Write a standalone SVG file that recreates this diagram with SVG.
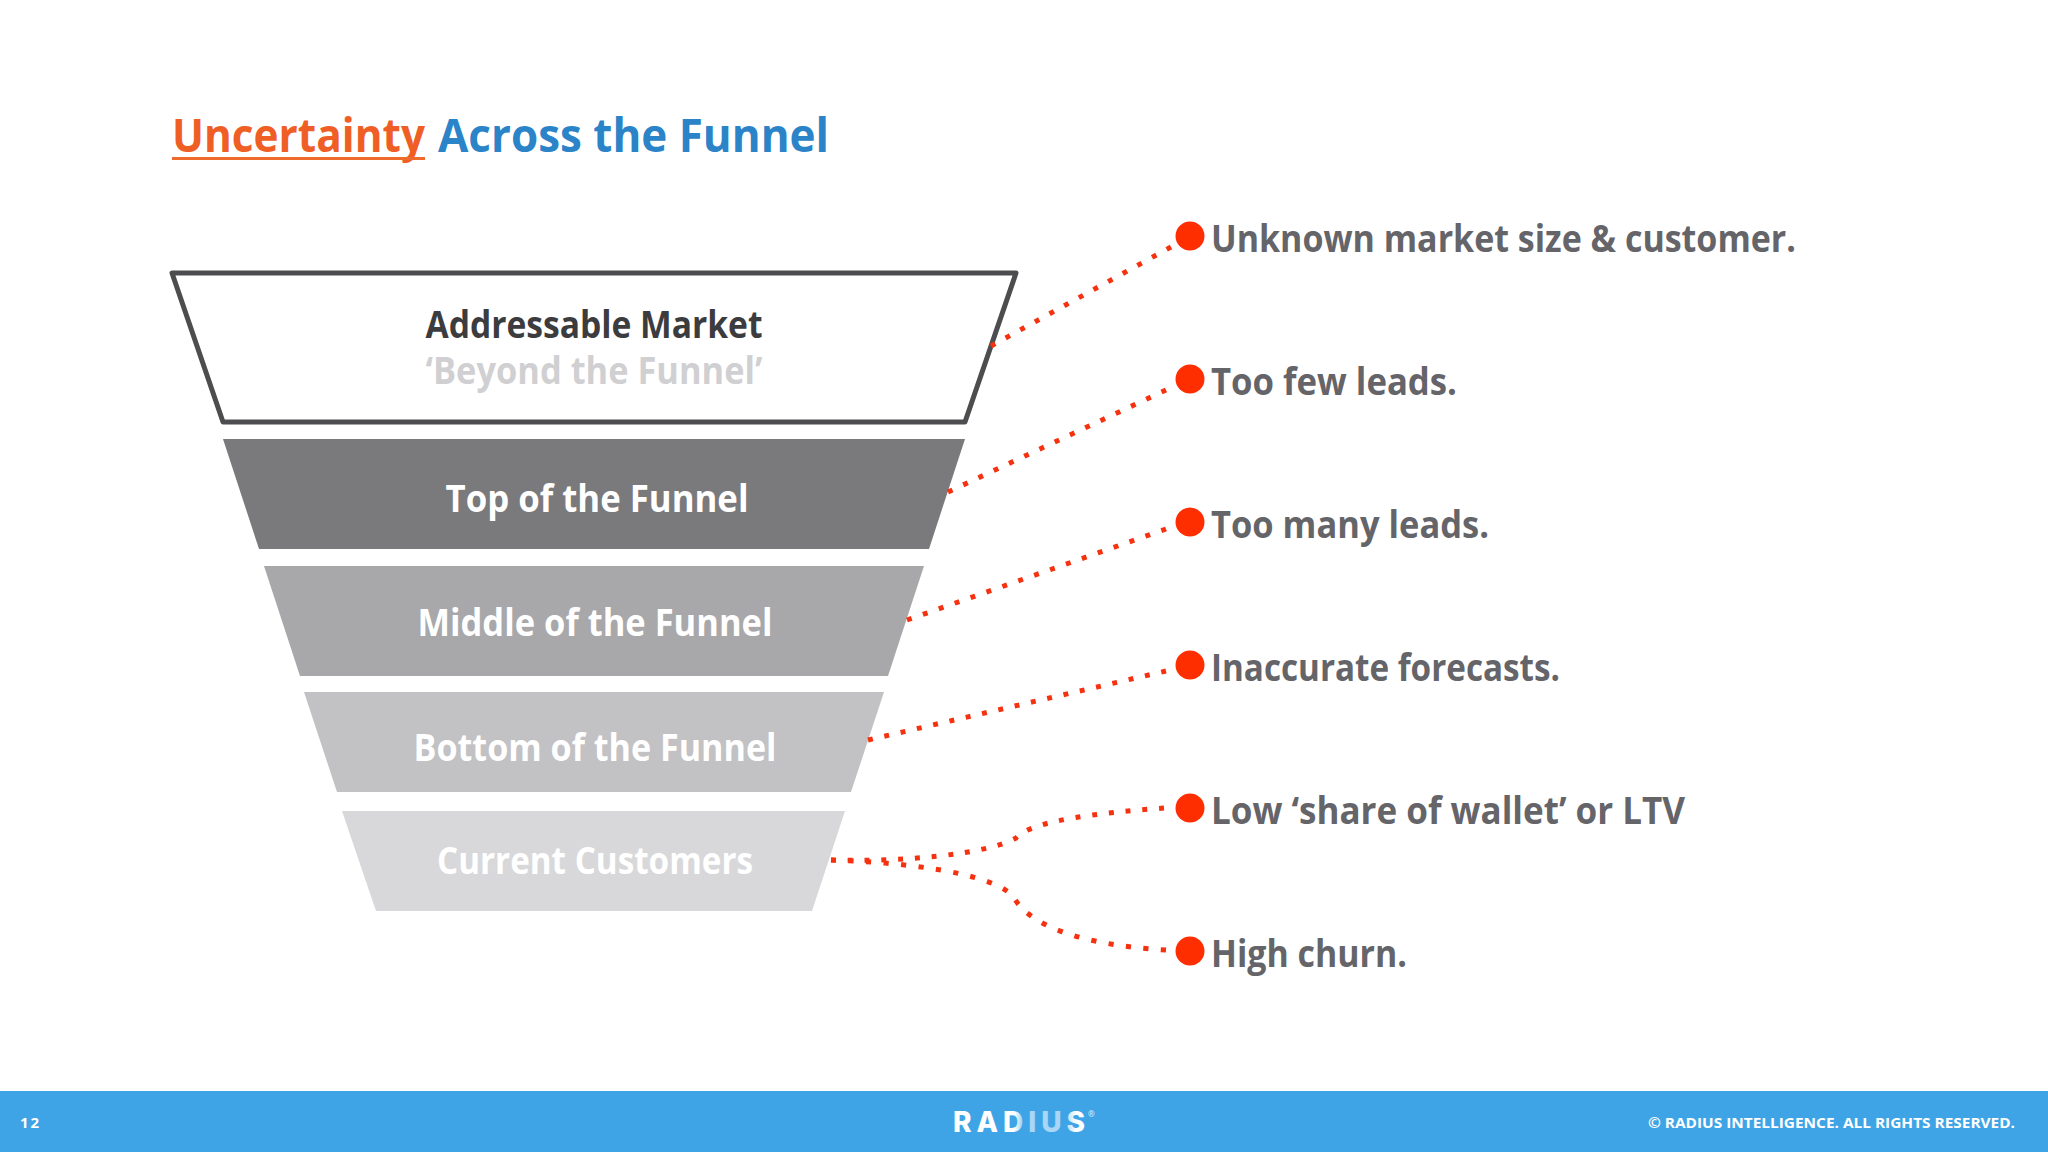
<svg xmlns="http://www.w3.org/2000/svg" width="2048" height="1152" viewBox="0 0 2048 1152">
<defs>
<linearGradient id="logo" gradientUnits="userSpaceOnUse" x1="953" y1="0" x2="1093" y2="0">
<stop offset="0" stop-color="#fff"/><stop offset="0.44" stop-color="#fff"/><stop offset="0.49" stop-color="#a9d6f4"/><stop offset="0.8" stop-color="#a9d6f4"/><stop offset="0.88" stop-color="#fff"/><stop offset="1" stop-color="#fff"/>
</linearGradient>
</defs>
<style>
text{font-family:"Open Sans","Noto Sans","Liberation Sans",sans-serif;font-weight:700}
.f{font-size:38px;fill:#fff}
.i{font-size:37px;fill:#646469}
.c{fill:none;stroke:#f5310f;stroke-width:5;stroke-dasharray:5 12}
.d{fill:#ff2e00}
</style>
<rect width="2048" height="1152" fill="#fff"/>
<g id="title">
<text x="172" y="152" font-size="46" fill="#ef5f25" textLength="253" lengthAdjust="spacingAndGlyphs">Uncertainty</text>
<rect x="172" y="157" width="253" height="3" fill="#ef6a2d"/>
<text x="438" y="152" font-size="46" fill="#2b83c8" textLength="391" lengthAdjust="spacingAndGlyphs">Across the Funnel</text>
</g>
<g id="n-addressable">
<polygon points="172,273 1016,273 965,422 223,422" fill="#fff" stroke="#4d4d4f" stroke-width="5" stroke-linejoin="round"/>
<text x="594" y="338" text-anchor="middle" font-size="37" fill="#3c3c3e" textLength="337" lengthAdjust="spacingAndGlyphs">Addressable Market</text>
<text x="594" y="384" text-anchor="middle" font-size="37" fill="#d0d0d2" textLength="337" lengthAdjust="spacingAndGlyphs">‘Beyond the Funnel’</text>
</g>
<g id="n-top">
<polygon points="223,439 965,439 929,549 259,549" fill="#7a797c"/>
<text class="f" x="597" y="512" text-anchor="middle" textLength="303" lengthAdjust="spacingAndGlyphs">Top of the Funnel</text>
</g>
<g id="n-middle">
<polygon points="264,566 924,566 888,676 300,676" fill="#a8a7a9"/>
<text class="f" x="595" y="636" text-anchor="middle" textLength="355" lengthAdjust="spacingAndGlyphs">Middle of the Funnel</text>
</g>
<g id="n-bottom">
<polygon points="304,692 884,692 851,792 337,792" fill="#c2c1c3"/>
<text class="f" x="595" y="761" text-anchor="middle" textLength="363" lengthAdjust="spacingAndGlyphs">Bottom of the Funnel</text>
</g>
<g id="n-current">
<polygon points="342,811 845,811 812,911 376,911" fill="#d8d8da"/>
<text class="f" x="595" y="874" text-anchor="middle" textLength="316" lengthAdjust="spacingAndGlyphs">Current Customers</text>
</g>
<g id="connectors">
<path class="c" pathLength="209" d="M991 346L1171 247"/>
<path class="c" pathLength="243" d="M948 492L1166 390"/>
<path class="c" pathLength="277" d="M907 620L1166 529"/>
<path class="c" pathLength="311" d="M868 740L1166 671"/>
<path class="c" pathLength="345" d="M831 860C900 862 985 855 1016 838C1032 820 1100 813 1164 808"/>
<path class="c" pathLength="345" d="M831 860C900 862 990 872 1013 896C1028 925 1080 945 1166 950"/>
</g>
<g id="i-1"><circle class="d" cx="1190" cy="236" r="14.5"/><text class="i" x="1211" y="252" textLength="585" lengthAdjust="spacingAndGlyphs">Unknown market size &amp; customer.</text></g>
<g id="i-2"><circle class="d" cx="1190" cy="379" r="14.5"/><text class="i" x="1211" y="395" textLength="246" lengthAdjust="spacingAndGlyphs">Too few leads.</text></g>
<g id="i-3"><circle class="d" cx="1190" cy="522" r="14.5"/><text class="i" x="1211" y="538" textLength="278" lengthAdjust="spacingAndGlyphs">Too many leads.</text></g>
<g id="i-4"><circle class="d" cx="1190" cy="665" r="14.5"/><text class="i" x="1211" y="681" textLength="349" lengthAdjust="spacingAndGlyphs">Inaccurate forecasts.</text></g>
<g id="i-5"><circle class="d" cx="1190" cy="808" r="14.5"/><text class="i" x="1211" y="824" textLength="474" lengthAdjust="spacingAndGlyphs">Low ‘share of wallet’ or LTV</text></g>
<g id="i-6"><circle class="d" cx="1190" cy="951" r="14.5"/><text class="i" x="1211" y="967" textLength="196" lengthAdjust="spacingAndGlyphs">High churn.</text></g>
<g id="footer">
<rect x="0" y="1091" width="2048" height="61" fill="#3ea4e6"/>
<text x="20" y="1128" font-size="15" fill="#fff" textLength="19">12</text>
<text x="953" y="1132" fill="url(#logo)" textLength="132" lengthAdjust="spacing" style="font-family:Inter,'Liberation Sans',sans-serif;font-size:28px;font-weight:800">RADIUS</text>
<text x="1088" y="1117" font-size="8" fill="#cfe8f9">®</text>
<text x="2015" y="1128" text-anchor="end" font-size="15" fill="#fff" textLength="367" lengthAdjust="spacingAndGlyphs">© RADIUS INTELLIGENCE. ALL RIGHTS RESERVED.</text>
</g>
</svg>
